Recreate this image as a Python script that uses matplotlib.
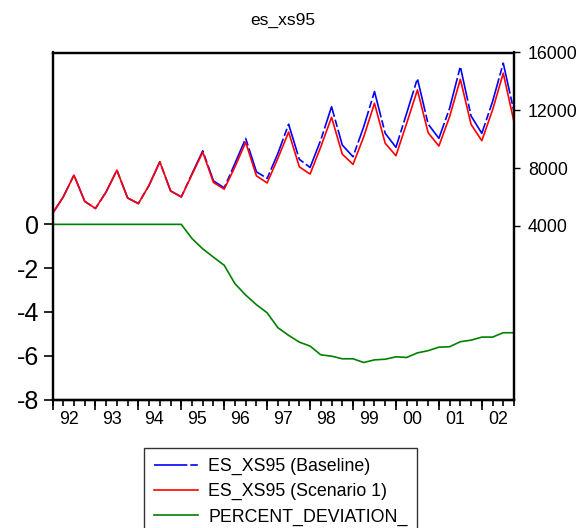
import matplotlib
matplotlib.use("Agg")
import matplotlib.pyplot as plt
import numpy as np

plt.rcParams['font.family'] = ['Liberation Sans', 'DejaVu Sans']

# Quarterly data 1992Q1 - 2002Q4
start_year = 1992
n_quarters = 44
years = np.arange(1992, 2003)
year_labels = ["92", "93", "94", "95", "96", "97", "98", "99", "00", "01", "02"]

baseline = [4860, 6010, 7520, 5710, 5210, 6360, 7860, 5940,
            5550, 6820, 8440, 6430, 6010, 7620, 9200, 7120,
            6640, 8330, 10060, 7750, 7290, 9020, 11040, 8610,
            8050, 9950, 12250, 9600, 8790, 10870, 13300, 10410,
            9440, 11800, 14200, 11050, 10060, 12140, 15030, 11610,
            10410, 12600, 15260, 11910]

scenario1 = [4860, 6010, 7520, 5710, 5210, 6360, 7860, 5940,
             5550, 6820, 8440, 6430, 6010, 7560, 9110, 7010,
             6550, 8090, 9790, 7470, 6980, 8680, 10500, 8090,
             7590, 9480, 11520, 8970, 8260, 10170, 12490, 9720,
             8860, 11100, 13410, 10450, 9530, 11560, 14150, 11030,
             9900, 12020, 14570, 11210]

pct_dev = [0, 0, 0, 0, 0, 0, 0, 0,
           0, 0, 0, 0, 0, -0.65, -1.12, -1.50,
           -1.87, -2.71, -3.23, -3.67, -4.04, -4.72, -5.07, -5.38,
           -5.56, -5.96, -6.02, -6.14, -6.14, -6.31, -6.19, -6.16,
           -6.05, -6.08, -5.87, -5.77, -5.61, -5.59, -5.36, -5.29,
           -5.15, -5.15, -4.95, -4.95]

x = start_year + np.arange(n_quarters) / 4.0

W, H = 580, 528
fig = plt.figure(figsize=(W / 100, H / 100), dpi=100)
left, right, bottom, top = 52.5, 514.0, 399.5, 52.5
ax = fig.add_axes([left / W, 1 - bottom / H, (right - left) / W, (bottom - top) / H])
ax2 = ax.twinx()

# right axis series
dash = (0, (20, 1.8, 4.5, 1.8))
l1, = ax2.plot(x, baseline, color='#0000ff', lw=1.2, linestyle=dash, label='ES_XS95 (Baseline)')
l2, = ax2.plot(x, scenario1, color='#ff0000', lw=1.2, label='ES_XS95 (Scenario 1)')
# left axis series
l3, = ax.plot(x, pct_dev, color='#008000', lw=1.2, label='PERCENT_DEVIATION_')

ax.set_xlim(x[0], x[-1])
ax.set_ylim(-8.0, 7.85)
ax2.set_ylim(-8000, 16000)

ax.set_yticks([0, -2, -4, -6, -8])
ax.set_yticklabels(["0", "-2", "-4", "-6", "-8"], fontsize=18)
ax2.set_yticks([4000, 8000, 12000, 16000])
ax2.set_yticklabels(["4000", "8000", "12000", "16000"], fontsize=12.8)

# x axis: year ticks at Q1, labels centred in each year, quarter minor ticks
ax.set_xticks(years + 0.375)
ax.set_xticklabels(year_labels, fontsize=12.8)
ax.tick_params(axis='x', which='major', length=0, pad=8)
ax.set_xticks(x, minor=True)
ax.tick_params(axis='x', which='minor', length=4.5, width=1.2, direction='out')
sec = ax.secondary_xaxis('bottom')
sec.set_xticks(years)
sec.set_xticklabels([])
sec.tick_params(axis='x', length=7, width=1.2, direction='out')
sec.spines['bottom'].set_linewidth(1.6)

ax.tick_params(axis='y', length=6.5, width=1.2, direction='out', pad=3)
ax2.tick_params(axis='y', length=4, width=1.0, direction='out', pad=6)

for sp in ax.spines.values():
    sp.set_linewidth(1.6)
for sp in ax2.spines.values():
    sp.set_linewidth(1.6)

fig.text(283 / W, 1 - 20 / H, "es_xs95", ha='center', va='center', fontsize=12.5)

leg = fig.legend(handles=[l1, l2, l3], loc='upper left',
                 bbox_to_anchor=(144 / W, 1 - 448 / H), fontsize=12.8,
                 frameon=True, fancybox=False, edgecolor='black',
                 handlelength=2.5, handletextpad=0.55, borderpad=0.55,
                 labelspacing=0.46, borderaxespad=0)
leg.get_frame().set_linewidth(1.0)

fig.savefig("out.png", dpi=100)
